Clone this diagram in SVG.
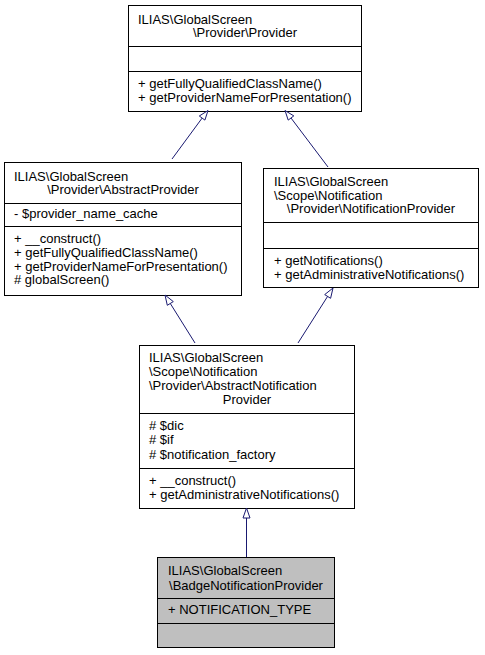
<svg xmlns="http://www.w3.org/2000/svg" width="485" height="655" viewBox="0 0 485 655">
<style>
.box{fill:#ffffff;stroke:#000000;stroke-width:1}
.cur{fill:#bfbfbf;stroke:#000000;stroke-width:1}
.sep{stroke:#000000;stroke-width:1}
text{font-family:"Liberation Sans",Arial,Helvetica,sans-serif;font-size:13px;fill:#000000}
.c{text-anchor:middle}
.edge line{stroke:#191970;stroke-width:1}
.edge polygon{fill:#ffffff;stroke:#191970;stroke-width:1}
</style>
<rect width="485" height="655" fill="#ffffff"/>
<g id="node_provider">
<rect class="box" x="128.5" y="5.5" width="233" height="106"/>
<text x="138" y="23.5">ILIAS\GlobalScreen</text>
<text class="c" x="245" y="37">\Provider\Provider</text>
<line class="sep" x1="128.5" y1="46.5" x2="361.5" y2="46.5"/>
<line class="sep" x1="128.5" y1="71.5" x2="361.5" y2="71.5"/>
<text x="138" y="87.5">+ getFullyQualifiedClassName()</text>
<text x="138" y="101.5">+ getProviderNameForPresentation()</text>
</g>
<g id="node_abstractprovider">
<rect class="box" x="4.5" y="162.5" width="237" height="133"/>
<text x="14" y="180.5">ILIAS\GlobalScreen</text>
<text class="c" x="123" y="194">\Provider\AbstractProvider</text>
<line class="sep" x1="4.5" y1="203.5" x2="241.5" y2="203.5"/>
<text x="14" y="217.5">- $provider_name_cache</text>
<line class="sep" x1="4.5" y1="226.5" x2="241.5" y2="226.5"/>
<text x="14" y="243">+ __construct()</text>
<text x="14" y="256.8">+ getFullyQualifiedClassName()</text>
<text x="14" y="270.6">+ getProviderNameForPresentation()</text>
<text x="14" y="284.4"># globalScreen()</text>
</g>
<g id="node_notificationprovider">
<rect class="box" x="263.5" y="168.5" width="215" height="119"/>
<text x="274" y="186">ILIAS\GlobalScreen</text>
<text x="274" y="199.5">\Scope\Notification</text>
<text class="c" x="371" y="213">\Provider\NotificationProvider</text>
<line class="sep" x1="263.5" y1="222.5" x2="478.5" y2="222.5"/>
<line class="sep" x1="263.5" y1="248.5" x2="478.5" y2="248.5"/>
<text x="274" y="265">+ getNotifications()</text>
<text x="274" y="279">+ getAdministrativeNotifications()</text>
</g>
<g id="node_abstractnotificationprovider">
<rect class="box" x="139.5" y="345.5" width="215" height="163"/>
<text x="149" y="362">ILIAS\GlobalScreen</text>
<text x="149" y="376">\Scope\Notification</text>
<text x="149" y="390">\Provider\AbstractNotification</text>
<text class="c" x="247" y="404">Provider</text>
<line class="sep" x1="139.5" y1="413.5" x2="354.5" y2="413.5"/>
<text x="149" y="430"># $dic</text>
<text x="149" y="444.3"># $if</text>
<text x="149" y="458.6"># $notification_factory</text>
<line class="sep" x1="139.5" y1="468.5" x2="354.5" y2="468.5"/>
<text x="149" y="485">+ __construct()</text>
<text x="149" y="499.3">+ getAdministrativeNotifications()</text>
</g>
<g id="node_badgenotificationprovider">
<rect class="cur" x="157.5" y="557.5" width="177" height="90"/>
<text x="168" y="575">ILIAS\GlobalScreen</text>
<text class="c" x="246" y="589.5">\BadgeNotificationProvider</text>
<line class="sep" x1="157.5" y1="598.5" x2="334.5" y2="598.5"/>
<text x="168" y="613.5">+ NOTIFICATION_TYPE</text>
<line class="sep" x1="157.5" y1="623.5" x2="334.5" y2="623.5"/>
</g>
<g id="connectors" class="edge">
<line x1="172" y1="159" x2="202.1" y2="118.1"/>
<polygon points="208,110.5 204.9,120.1 199.3,116"/>
<line x1="328" y1="167" x2="291" y2="118"/>
<polygon points="285,110.5 293.8,115.9 288.2,120.1"/>
<line x1="195" y1="343" x2="170.3" y2="303.5"/>
<polygon points="165,295 173.3,301.6 167.3,305.3"/>
<line x1="298" y1="343" x2="327.6" y2="296.4"/>
<polygon points="333,288 330.6,298.3 324.7,294.6"/>
<line x1="246.5" y1="557" x2="246.5" y2="518"/>
<polygon points="246.5,508 250,518 243,518"/>
</g>
</svg>
